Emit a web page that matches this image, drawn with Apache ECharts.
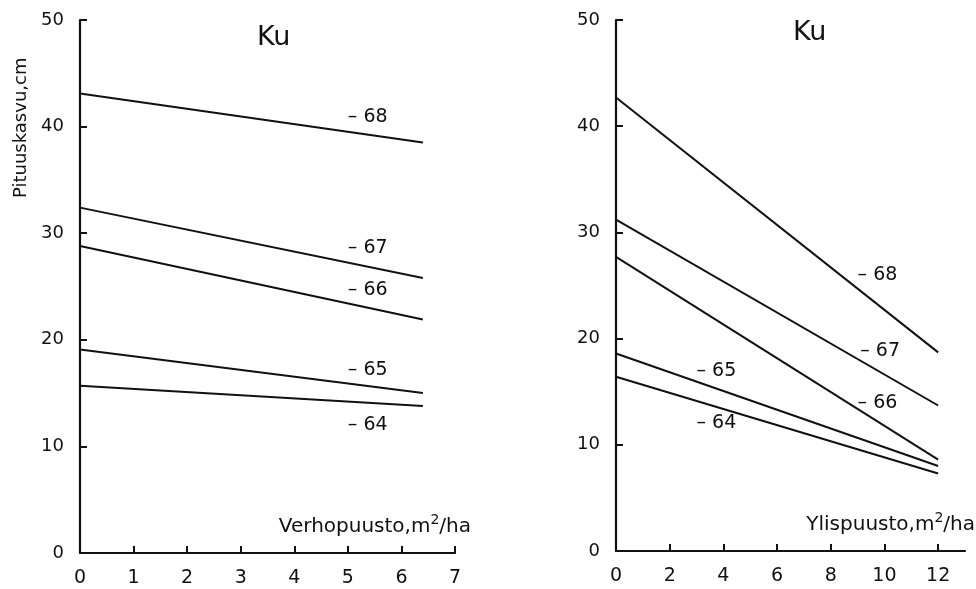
<!DOCTYPE html>
<html>
<head>
<meta charset="utf-8">
<script src="https://cdn.jsdelivr.net/npm/echarts@6/dist/echarts.min.js"></script>
<style>
  html, body { margin: 0; padding: 0; background: #fff; }
  #chart { width: 976px; height: 589px; }
</style>
</head>
<body>
<div id="chart"></div>
<script>
// vuosikerrat (lines)
const years = ['– 68', '– 67', '– 66', '– 65', '– 64'];

// left panel: Verhopuusto
const leftX = [0, 6.4];
const leftStart = [43.1, 32.4, 28.8, 19.1, 15.7];
const leftEnd = [38.5, 25.8, 21.9, 15.0, 13.8];
const leftLabelX = [5.0, 5.0, 5.0, 5.0, 5.0];
const leftLabelY = [40.9, 28.6, 24.7, 17.2, 12.0];

// right panel: Ylispuusto
const rightX = [0, 12];
const rightStart = [42.7, 31.2, 27.7, 18.6, 16.4];
const rightEnd = [18.7, 13.7, 8.6, 8.0, 7.3];
const rightLabelX = [9.0, 9.1, 9.0, 3.0, 3.0];
const rightLabelY = [26.0, 18.8, 13.9, 16.9, 12.0];

// tick labels
const leftTicks = [0, 1, 2, 3, 4, 5, 6, 7];
const rightTicks = [0, 2, 4, 6, 8, 10, 12];
const yTicks = [0, 10, 20, 30, 40, 50];

const FONT = 'DejaVu Sans';
const INK = '#111';

const chart = echarts.init(document.getElementById('chart'), null, { renderer: 'canvas' });

function xAxisFor(gridIndex, max, ticks) {
  return {
    type: 'value',
    gridIndex: gridIndex,
    min: 0,
    max: max,
    axisLine: { show: true, lineStyle: { color: INK, width: 2.2 } },
    axisTick: { show: true, inside: true, length: 7, lineStyle: { color: INK, width: 2 }, customValues: ticks },
    axisLabel: { color: INK, fontFamily: FONT, fontSize: 19, margin: 16, customValues: ticks },
    splitLine: { show: false }
  };
}

function yAxisFor(gridIndex) {
  return {
    type: 'value',
    gridIndex: gridIndex,
    min: 0,
    max: 50,
    axisLine: { show: true, lineStyle: { color: INK, width: 2.2 } },
    axisTick: { show: true, inside: true, length: 7, lineStyle: { color: INK, width: 2 }, customValues: yTicks },
    axisLabel: { color: INK, fontFamily: FONT, fontSize: 18, margin: 16, customValues: yTicks },
    splitLine: { show: false }
  };
}

function lineSeries(idx, xs, starts, ends) {
  return years.map((y, i) => ({
    name: y,
    type: 'line',
    xAxisIndex: idx,
    yAxisIndex: idx,
    data: [[xs[0], starts[i]], [xs[1], ends[i]]],
    symbol: 'none',
    lineStyle: { color: INK, width: 2 },
    silent: true
  }));
}

function labelSeries(idx, lx, ly) {
  return {
    type: 'scatter',
    xAxisIndex: idx,
    yAxisIndex: idx,
    symbolSize: 0,
    data: years.map((y, i) => ({ name: y, value: [lx[i], ly[i]] })),
    label: {
      show: true,
      formatter: p => p.name,
      position: [0, 0],
      align: 'left',
      verticalAlign: 'middle',
      color: INK,
      opacity: 1,
      textBorderWidth: 0,
      fontFamily: FONT,
      fontSize: 19
    },
    itemStyle: { color: INK, opacity: 1 },
    silent: true
  };
}

const unitRich = {
  sup: { fontSize: 14, fontFamily: FONT, color: INK, verticalAlign: 'top', padding: [0, 0, 14, 0] }
};

const option = {
  backgroundColor: '#fff',
  animation: false,
  grid: [
    { left: 80, top: 20, width: 375, bottom: 36 },
    { left: 616, top: 20, width: 349, bottom: 38 }
  ],
  xAxis: [xAxisFor(0, 7, leftTicks), xAxisFor(1, 13, rightTicks)],
  yAxis: [yAxisFor(0), yAxisFor(1)],
  series: [
    ...lineSeries(0, leftX, leftStart, leftEnd),
    ...lineSeries(1, rightX, rightStart, rightEnd),
    labelSeries(0, leftLabelX, leftLabelY),
    labelSeries(1, rightLabelX, rightLabelY)
  ],
  graphic: [
    { type: 'text', left: 257, top: 24, style: { text: 'Ku', font: '27px "DejaVu Sans"', fill: INK } },
    { type: 'text', left: 793, top: 19, style: { text: 'Ku', font: '27px "DejaVu Sans"', fill: INK } },
    {
      type: 'text', x: 12, y: 198, rotation: Math.PI / 2,
      style: { text: 'Pituuskasvu,cm', font: '18px "DejaVu Sans"', fill: INK, align: 'left', verticalAlign: 'top' }
    },
    {
      type: 'text', x: 471, y: 527,
      style: {
        text: 'Verhopuusto,m{sup|2}/ha', font: '20px "DejaVu Sans"', fill: INK,
        align: 'right', verticalAlign: 'middle', rich: unitRich
      }
    },
    {
      type: 'text', x: 975, y: 525,
      style: {
        text: 'Ylispuusto,m{sup|2}/ha', font: '20px "DejaVu Sans"', fill: INK,
        align: 'right', verticalAlign: 'middle', rich: unitRich
      }
    }
  ]
};

chart.setOption(option);
</script>
</body>
</html>
